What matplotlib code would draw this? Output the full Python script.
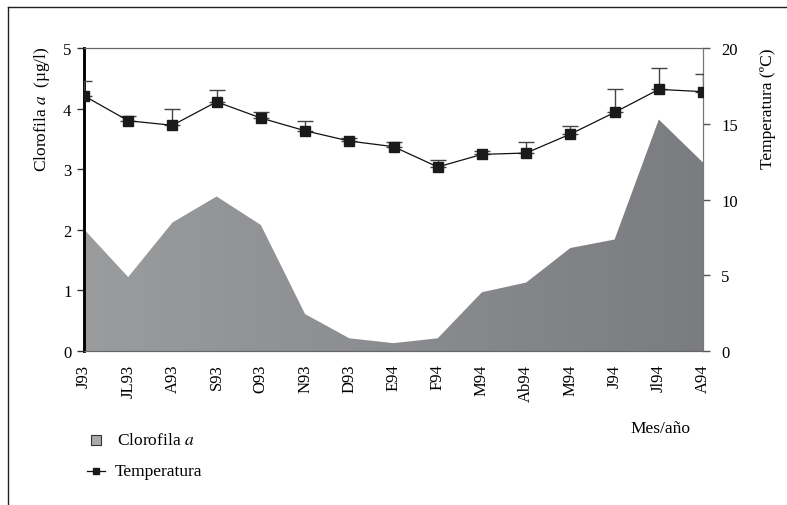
import numpy as np
import matplotlib
matplotlib.use('Agg')
import matplotlib.pyplot as plt
from matplotlib.colors import LinearSegmentedColormap
from matplotlib.lines import Line2D

plt.rcParams['font.family'] = ['Liberation Serif', 'DejaVu Serif']
plt.rcParams['mathtext.fontset'] = 'stix'
plt.rcParams['font.size'] = 12

# data
meses = ['J93', 'JL93', 'A93', 'S93', 'O93', 'N93', 'D93', 'E94',
         'F94', 'M94', 'Ab94', 'M94', 'J94', 'Jl94', 'A94']
clorofila = [2.01, 1.22, 2.12, 2.55, 2.08, 0.61, 0.21, 0.13,
             0.21, 0.97, 1.13, 1.70, 1.84, 3.82, 3.11]
temperatura = [16.85, 15.2, 14.9, 16.45, 15.38, 14.54, 13.86, 13.49,
               12.15, 12.98, 13.07, 14.32, 15.75, 17.27, 17.12]
temp_err = [1.0, 0.3, 1.07, 0.8, 0.42, 0.66, 0.2, 0.33,
            0.44, 0.22, 0.7, 0.55, 1.55, 1.43, 1.14]

x = np.arange(len(meses))

fig = plt.figure(figsize=(7.87, 5.06), dpi=100)
ax = fig.add_axes([0.1067, 0.3043, 0.7866, 0.5988])
ax2 = ax.twinx()

# chlorophyll area with a left-to-right grey gradient
poly = ax.fill_between(x, clorofila, 0, color='none', lw=0)
grad = LinearSegmentedColormap.from_list('g', ['#9b9c9e', '#7b7c80'])
img = ax.imshow(np.linspace(0, 1, 256).reshape(1, -1), cmap=grad,
                extent=[0, len(meses) - 1, 0, 5], aspect='auto', zorder=1)
img.set_clip_path(poly.get_paths()[0], transform=ax.transData)

ax.set_xlim(0, len(meses) - 1)
ax.set_ylim(0, 5)
ax.set_yticks(range(6))
ax.set_xticks(x)
ax.set_xticklabels(meses, rotation=90)
ax.tick_params(axis='x', length=0, pad=9)
ax.tick_params(axis='y', length=5, width=1, color='#333333', pad=4)

# temperature line with upper error bars
ax2.errorbar(x, temperatura, yerr=[np.zeros(len(x)), temp_err],
             fmt='none', ecolor='#444444', elinewidth=1, capsize=6, zorder=3)
ax2.plot(x, temperatura, color='#111111', lw=0.9, marker='s', ms=7,
         mfc='#1a1a1a', mec='#1a1a1a', zorder=4)
ax2.set_ylim(0, 20)
ax2.set_yticks(range(0, 21, 5))
ax2.tick_params(axis='y', length=5, width=1, color='#555555', pad=8)

for a in (ax, ax2):
    a.spines['top'].set_color('#666666')
    a.spines['bottom'].set_color('#666666')
    a.spines['right'].set_color('#777777')
    a.spines['left'].set_color('black')
    a.spines['left'].set_linewidth(1.8)
ax2.set_zorder(ax.get_zorder() + 1)
ax2.patch.set_visible(False)

fig.text(0.053, 0.785, r'Clorofila $\mathit{a}$  (µg/l)', rotation=90,
         ha='center', va='center', fontsize=12.5)
fig.text(0.976, 0.785, 'Temperatura (ºC)', rotation=90,
         ha='center', va='center', fontsize=12.5)
fig.text(0.8395, 0.152, 'Mes/año', ha='center', va='center', fontsize=12.5)

# manual legend
fig.add_artist(Line2D([0.122], [0.129], marker='s', ms=7, mfc='#aaaaaa',
                      mec='#333333', mew=0.8, ls='none'))
fig.text(0.149, 0.129, r'Clorofila $\mathit{a}$', ha='left', va='center',
         fontsize=12.5)
fig.add_artist(Line2D([0.111, 0.134], [0.0676, 0.0676], color='#111111',
                      lw=0.9))
fig.add_artist(Line2D([0.1225], [0.0676], marker='s', ms=5, mfc='#1a1a1a',
                      mec='#1a1a1a', ls='none'))
fig.text(0.146, 0.0676, 'Temperatura', ha='left', va='center', fontsize=12.5)

# outer frame (left and top only)
fig.add_artist(Line2D([0.0102, 0.0102], [0, 0.984], color='#222222', lw=1))
fig.add_artist(Line2D([0.0102, 1.0], [0.984, 0.984], color='#222222', lw=1))

fig.savefig('out.png', dpi=100)
